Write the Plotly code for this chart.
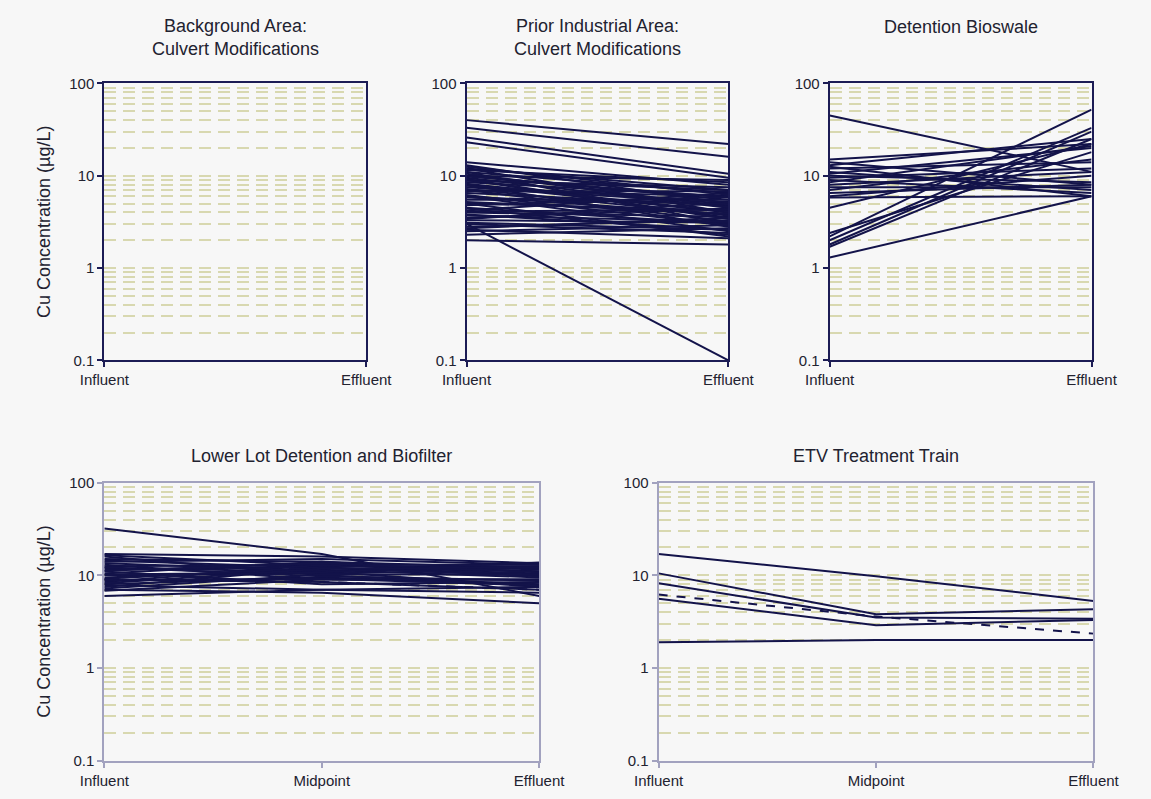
import plotly.graph_objects as go

# ---------------- data ----------------
stages_2 = ["Influent", "Effluent"]
stages_3 = ["Influent", "Midpoint", "Effluent"]

# Background Area: Culvert Modifications (no data)
background_influent = []
background_effluent = []

# Prior Industrial Area: Culvert Modifications
prior_influent = [40, 33, 26, 23, 14, 13, 12, 12, 11, 11, 10, 10, 9.5, 9, 9, 8.5, 8, 8, 7.5, 7,
                  7, 6.5, 6, 6, 5.5, 5, 5, 4.5, 4.2, 4, 3.8, 3.5, 3.3, 3.0, 3.0, 2.8, 2.6, 2.5, 2.3, 2.0,
                  12.5, 11.5, 10.5, 9.8, 9.2, 8.8, 8.2, 7.8, 7.2, 6.8, 6.2, 5.8, 5.2, 4.8, 4.4, 4.1, 3.7, 3.4, 3.1, 2.7]
prior_effluent = [22, 16, 10.5, 9.5, 8, 5, 7, 4, 6.5, 3, 9, 5.5, 4.5, 7, 3.5, 6, 4, 2.8, 5, 3.2,
                  6, 4.8, 2.5, 3.8, 5.5, 2.2, 4.2, 3, 6.5, 3.6, 2.6, 4.4, 3.1, 0.1, 2.4, 3.3, 2.1, 2.9, 2.7, 1.8,
                  6.2, 8.5, 4.6, 5.8, 3.4, 7.5, 4.1, 5.2, 3.7, 6.8, 2.9, 4.9, 3.9, 5.9, 2.3, 4.3, 3.2, 5.1, 2.6, 3.5]

# Detention Bioswale
bioswale_influent = [45, 15, 14, 13, 12.5, 12, 11, 10.5, 10, 9.5, 9, 8.5, 8, 7.5, 7, 6.5, 6, 5.8,
                     4.5, 2.4, 2.2, 2.0, 1.8, 1.7, 1.3]
bioswale_effluent = [11, 22, 8, 25, 6, 14, 7, 20, 8.5, 12, 6.5, 21, 11, 7.5, 15, 8, 10, 6,
                     22, 18, 52, 33, 30, 25, 6]

# Lower Lot Detention and Biofilter
lowerlot_influent = [32, 17, 16, 15, 14.5, 14, 13, 12.5, 12, 11.5, 11, 10.5, 10, 9.5, 9, 8.5, 8, 7.8, 7.5, 7, 6.8, 6,
                     16.5, 13.5, 12.2, 11.2, 10.2, 9.2, 8.8, 8.2, 7.2, 9]
lowerlot_midpoint = [17, 16, 10, 14, 12, 15, 9, 13, 11, 12.5, 8, 14, 10.5, 11.5, 8.5, 13, 9.5, 7, 12, 6.5, 9, 7,
                     12.8, 11.2, 9.8, 13.5, 10.8, 12.2, 9.2, 11.8, 10.2, 8.5]
lowerlot_effluent = [6, 13.5, 8, 12, 10, 13, 9, 11, 7.5, 12.5, 8.5, 10, 11.5, 9.5, 7, 13, 8, 6.5, 10.5, 5, 9, 7.5,
                     11, 12, 8.8, 10.8, 13.8, 9.8, 7.8, 12.2, 10.2, 7]
lowerlot_dashed = [False] * 31 + [True]

# ETV Treatment Train
etv_influent = [17, 10.5, 8.2, 6.2, 5.6, 1.9]
etv_midpoint = [9.8, 3.8, 3.5, 3.6, 2.9, 2.0]
etv_effluent = [5.3, 4.3, 3.4, 2.35, 3.3, 2.0]
etv_dashed = [False, False, False, True, False, False]

titles = ["Background Area:<br>Culvert Modifications", "Prior Industrial Area:<br>Culvert Modifications",
          "Detention Bioswale", "Lower Lot Detention and Biofilter", "ETV Treatment Train"]
y_title = "Cu Concentration (µg/L)"

# ---------------- style ----------------
W, H = 1151, 799
LINE = "#13134a"
AX_TOP = "#1c1c55"
AX_BOT = "#a2a2bf"
GRID = "#d8d8b0"
BG = "#f7f7f7"
FONT = "Arial, Liberation Sans, sans-serif"
TXT = "#222230"

def px_x(a, b):
    return [a / W, b / W]

def px_y(top, bottom):
    return [1 - bottom / H, 1 - top / H]

panels = [
    dict(x=px_x(83, 357), y=px_y(76, 359), axc=AX_TOP),
    dict(x=px_x(462, 736), y=px_y(76, 359), axc=AX_TOP),
    dict(x=px_x(842, 1116), y=px_y(76, 359), axc=AX_TOP),
    dict(x=px_x(83, 538), y=px_y(484, 768), axc=AX_BOT),
    dict(x=px_x(663, 1118), y=px_y(484, 768), axc=AX_BOT),
]

fig = go.Figure()

def add_lines(idx, xs, series, dashes=None):
    ax = "" if idx == 1 else str(idx)
    for k, ys in enumerate(series):
        dash = "dash" if (dashes and dashes[k]) else "solid"
        fig.add_trace(go.Scatter(x=xs, y=ys, mode="lines", xaxis="x" + ax, yaxis="y" + ax,
                                 line=dict(color=LINE, width=2, dash=dash),
                                 showlegend=False, hoverinfo="skip"))

# empty trace to keep panel 1 present
fig.add_trace(go.Scatter(x=background_influent, y=background_effluent, mode="lines",
                         xaxis="x", yaxis="y", showlegend=False))
add_lines(2, [0, 1], [[a, b] for a, b in zip(prior_influent, prior_effluent)])
add_lines(3, [0, 1], [[a, b] for a, b in zip(bioswale_influent, bioswale_effluent)])
add_lines(4, [0, 1, 2], [[a, b, c] for a, b, c in zip(lowerlot_influent, lowerlot_midpoint, lowerlot_effluent)],
          lowerlot_dashed)
add_lines(5, [0, 1, 2], [[a, b, c] for a, b, c in zip(etv_influent, etv_midpoint, etv_effluent)], etv_dashed)

layout = dict(width=W, height=H, paper_bgcolor=BG, plot_bgcolor=BG,
              margin=dict(l=0, r=0, t=0, b=0), showlegend=False,
              font=dict(family=FONT, color=TXT, size=15))

for i, p in enumerate(panels, start=1):
    ax = "" if i == 1 else str(i)
    n = 2 if i <= 3 else 3
    labels = stages_2 if n == 2 else stages_3
    layout["xaxis" + ax] = dict(domain=p["x"], anchor="y" + ax, range=[0, n - 1],
                                tickvals=list(range(n)), ticktext=labels,
                                ticks="outside", ticklen=5, tickcolor=p["axc"], tickwidth=1.5,
                                showline=True, linecolor=p["axc"], linewidth=2, mirror=True,
                                showgrid=False, zeroline=False,
                                tickfont=dict(family=FONT, size=15, color=TXT))
    layout["yaxis" + ax] = dict(domain=p["y"], anchor="x" + ax, type="log", range=[-1, 2],
                                dtick=1, ticks="outside", ticklen=5, tickcolor=p["axc"], tickwidth=1.5,
                                showline=True, linecolor=p["axc"], linewidth=2, mirror=True,
                                showgrid=True, gridcolor=GRID, gridwidth=1.5, griddash="12px,7px",
                                minor=dict(dtick="D1", showgrid=True, gridcolor=GRID, gridwidth=1.5,
                                           griddash="12px,7px", ticks=""),
                                zeroline=False,
                                tickfont=dict(family=FONT, size=15, color=TXT))

fig.update_layout(**layout)

# titles
title_pos = [(220, 29.5), (599, 29.5), (979, 18), (310.5, 457), (890.5, 457)]
for t, (cx, cy) in zip(titles, title_pos):
    fig.add_annotation(text=t, x=cx / W, y=1 - cy / H, xref="paper", yref="paper",
                       xanchor="center", yanchor="middle", showarrow=False,
                       font=dict(family=FONT, size=18, color=TXT))

for cy in [217.5, 626]:
    fig.add_annotation(text=y_title, x=20 / W, y=1 - cy / H, xref="paper", yref="paper",
                       xanchor="center", yanchor="middle", textangle=-90, showarrow=False,
                       font=dict(family=FONT, size=18, color=TXT))

fig.write_html("out.html",
               config={"displayModeBar": False},
               post_script="document.body.style.margin='0px';"
                           "document.body.style.backgroundColor='#f7f7f7';")
